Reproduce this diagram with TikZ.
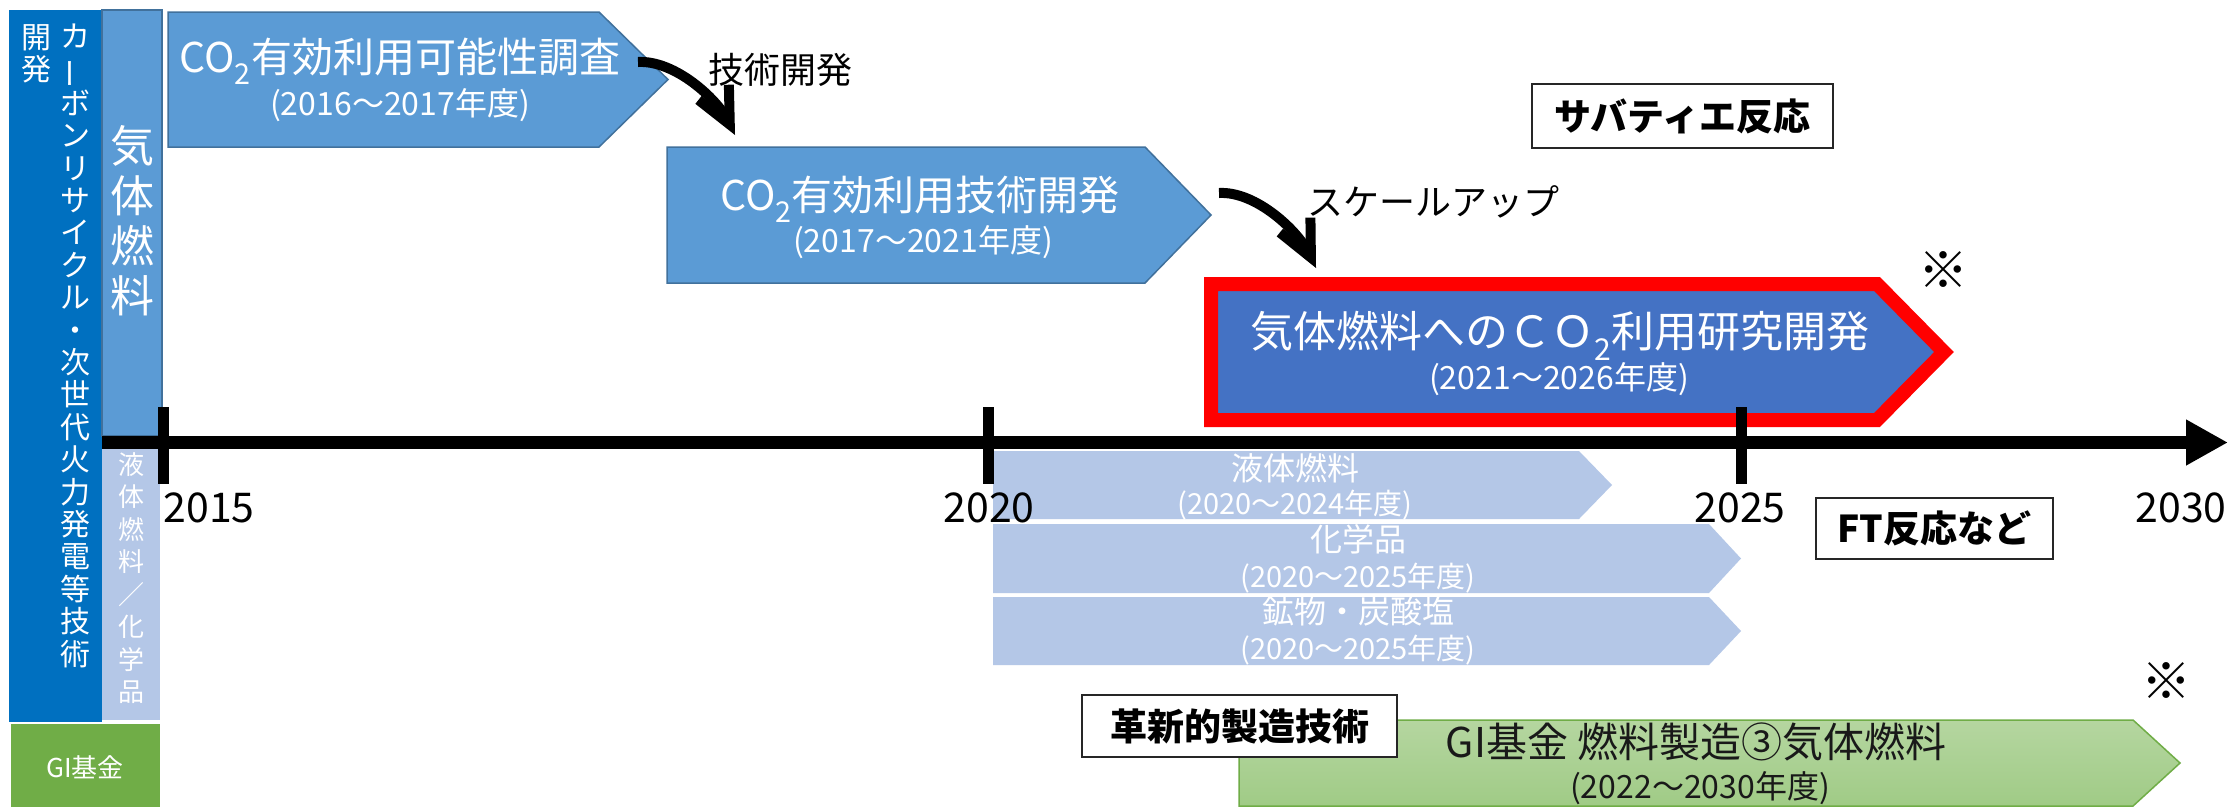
\documentclass[tikz,border=0pt]{standalone}
\usepackage{fontspec}
\setmainfont{Noto Sans CJK JP}
\usetikzlibrary{arrows.meta}
\definecolor{dblue}{HTML}{0070C0}
\definecolor{mblue}{HTML}{5B9BD5}
\definecolor{mbord}{HTML}{41719C}
\definecolor{rblue}{HTML}{4472C4}
\definecolor{lblue}{HTML}{B4C7E7}
\definecolor{ggreen}{HTML}{70AD47}
\definecolor{gtop}{HTML}{B5D6A0}
\definecolor{gbot}{HTML}{A0CB86}
\newcommand{\pxf}[1]{\fontsize{#1}{#1}\selectfont}
\newcommand{\vtf}[2]{\fontsize{#1}{#2}\selectfont}
\newcommand{\vbar}{\rotatebox[origin=c]{90}{ー}}
\begin{document}
\begin{tikzpicture}[x=1pt,y=-1pt,
  vtext/.style={align=center,inner sep=0pt,text=white,anchor=north},
  wtext/.style={inner sep=0pt,text=white,anchor=base},
  ktext/.style={inner sep=0pt,text=black,anchor=base},
  bluebox/.style={fill=mblue,draw=mbord,line width=1.5pt},
  lightbox/.style={fill=lblue},
  labelbox/.style={draw=black!85,line width=2.5pt,fill=white,inner sep=0pt,font=\pxf{37}\bfseries},
  curvearrow/.style={line width=10pt,-{Straight Barb[length=36pt,width=34pt]}},
  yeartick/.style={line width=11pt},
  yearlabel/.style={inner sep=0pt,anchor=base,font=\pxf{41}}
]
\useasboundingbox (0,0) rectangle (2230,807);
\fill[white] (0,0) rectangle (2230,807);

% ---- left columns
\fill[dblue] (9,10) rectangle (102,722);
\node[vtext,font=\vtf{30}{32.4}] (kaihatsu) at (36,24) {開\\発};
\node[vtext,font=\vtf{30}{32.4}] (carbon) at (75,24) {カ\\\vbar\\ボ\\ン\\リ\\サ\\イ\\ク\\ル\\・\\次\\世\\代\\火\\力\\発\\電\\等\\技\\術};
\path[bluebox] (102,10) rectangle (162,436);
\node[vtext,font=\vtf{44}{50}] (kitai) at (132,125) {気\\体\\燃\\料};
\fill[lblue] (102,448) rectangle (160,720);
\node[vtext,font=\vtf{26}{32.5}] (ekitai) at (131,452) {液\\体\\燃\\料\\／\\化\\学\\品};
\fill[ggreen] (11,724) rectangle (160,807);
\node[inner sep=0pt,text=white,font=\pxf{26}] (gileft) at (85,767) {GI基金};

% ---- box 1
\path[bluebox] (168,12) -- (599,12) -- (668,79.5) -- (599,147) -- (168,147) -- cycle;
\node[wtext,font=\pxf{41}] (b1a) at (400,72.5) {CO\textsubscript{2}有効利用可能性調査};
\node[wtext,font=\pxf{32}] (b1b) at (400,115) {(2016〜2017年度)};

% ---- box 2
\path[bluebox] (667,147) -- (1145,147) -- (1211,215) -- (1145,283) -- (667,283) -- cycle;
\node[wtext,font=\pxf{41}] (b2a) at (920,210) {CO\textsubscript{2}有効利用技術開発};
\node[wtext,font=\pxf{32}] (b2b) at (923,252) {(2017〜2021年度)};

% ---- red box
\path[fill=rblue,draw=red,line width=14pt,miter limit=4] (1211,284) -- (1877,284) -- (1944,352) -- (1877,420) -- (1211,420) -- cycle;
\node[wtext,font=\pxf{43}] (r1) at (1560,347.5) {気体燃料へのＣＯ\textsubscript{2}利用研究開発};
\node[wtext,font=\pxf{32}] (r2) at (1559,389) {(2021〜2026年度)};
\node[inner sep=0pt,font=\pxf{50}] (kome1) at (1943,270) {※};

% ---- curved arrows and their labels
\coordinate (a1s) at (638,62);
\coordinate (a1e) at (735,135);
\draw[curvearrow] (a1s) .. controls (675,60) and (717,99) .. (a1e);
\node[ktext,font=\pxf{36}] (gijutsu) at (780,83) {技術開発};
\coordinate (a2s) at (1219,193);
\coordinate (a2e) at (1316,268);
\draw[curvearrow] (a2s) .. controls (1256,191) and (1298,231) .. (a2e);
\node[ktext,font=\pxf{36}] (scaleup) at (1433,215) {スケールアップ};

% ---- label boxes
\node[labelbox,minimum width=301pt,minimum height=64pt] (sabatier) at (1682.5,116) {サバティエ反応};
\node[labelbox,minimum width=237pt,minimum height=61pt] (ft) at (1934.5,528.5) {FT反応など};

% ---- light blue arrows
\path[lightbox] (993,451) -- (1579,451) -- (1612,485) -- (1579,519) -- (993,519) -- cycle;
\node[wtext,font=\pxf{32}] (l1a) at (1295,480) {液体燃料};
\node[wtext,font=\pxf{29}] (l1b) at (1295,514) {(2020〜2024年度)};
\path[lightbox] (993,524) -- (1709,524) -- (1741,558.5) -- (1709,593) -- (993,593) -- cycle;
\node[wtext,font=\pxf{32}] (l2a) at (1358,551) {化学品};
\node[wtext,font=\pxf{29}] (l2b) at (1358,587) {(2020〜2025年度)};
\path[lightbox] (993,597) -- (1709,597) -- (1741,631) -- (1709,665) -- (993,665) -- cycle;
\node[wtext,font=\pxf{32}] (l3a) at (1358,623) {鉱物・炭酸塩};
\node[wtext,font=\pxf{29}] (l3b) at (1358,659) {(2020〜2025年度)};

% ---- time axis (drawn over the boxes)
\coordinate (axL) at (102,442.5);
\coordinate (axR) at (2228,442.5);
\draw[line width=13pt,-{Triangle[length=42pt,width=43pt]}] (axL) -- (axR);
\draw[yeartick] (163,407) -- (163,484);
\draw[yeartick] (988,407) -- (988,484);
\draw[yeartick] (1741,407) -- (1741,484);
\node[yearlabel] (y2015) at (209,522) {2015};
\node[yearlabel] (y2020) at (989,522) {2020};
\node[yearlabel] (y2025) at (1740,522) {2025};
\node[yearlabel] (y2030) at (2181,522) {2030};

% ---- green arrow
\shade[top color=gtop,bottom color=gbot,draw=ggreen,line width=1.5pt] (1239,720) -- (2133,720) -- (2180,763) -- (2133,806) -- (1239,806) -- cycle;
\node[ktext,font=\pxf{41},text=black!90] (g1) at (1696,757) {GI基金 燃料製造③気体燃料};
\node[ktext,font=\pxf{32},text=black!90] (g2) at (1700,798) {(2022〜2030年度)};
\node[labelbox,minimum width=315pt,minimum height=62pt] (kakushin) at (1239.5,726) {革新的製造技術};
\node[inner sep=0pt,font=\pxf{50}] (kome2) at (2166,681) {※};
\end{tikzpicture}
\end{document}
